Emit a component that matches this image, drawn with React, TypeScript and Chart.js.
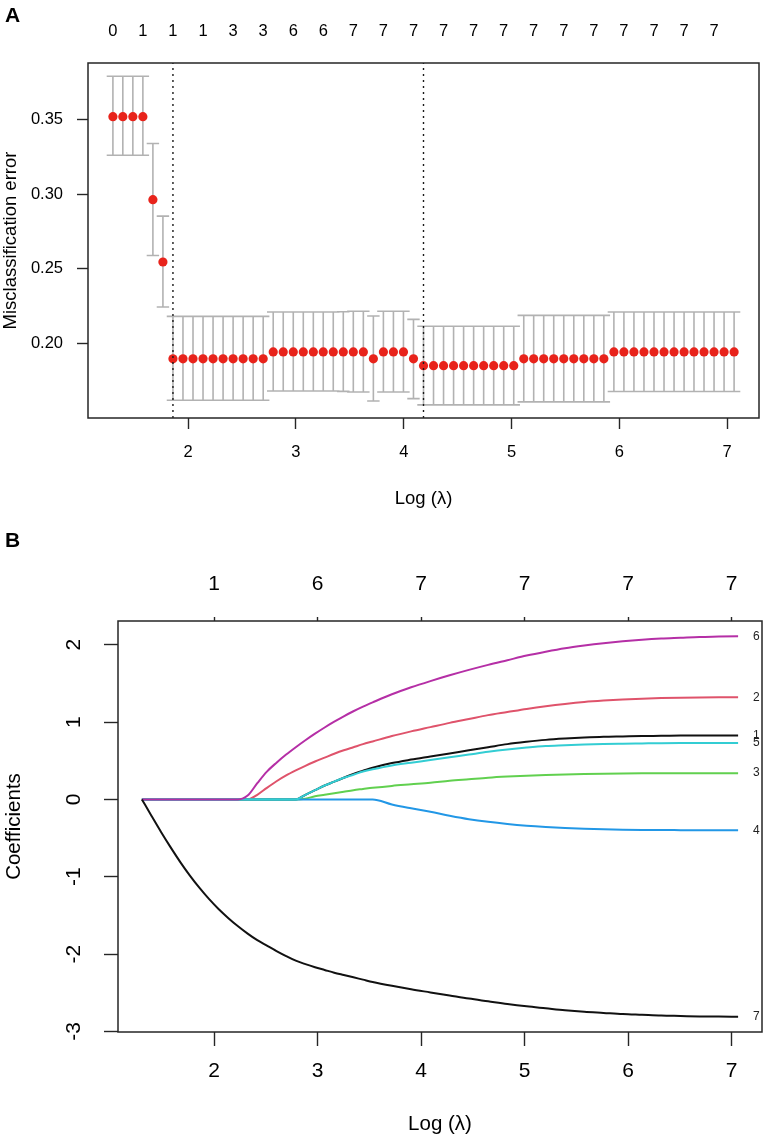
import React, { useEffect, useRef } from "react";
import { Chart, registerables } from "chart.js";

Chart.register(...registerables);

const FONT_FAMILY = "'Liberation Sans', Arial, Helvetica, sans-serif";

// ---- Cross-validation curve (panel A) ----
const logLambda = [
  1.302, 1.394, 1.487, 1.58, 1.673, 1.766, 1.859, 1.952, 2.045, 2.138,
  2.231, 2.324, 2.417, 2.51, 2.603, 2.696, 2.789, 2.882, 2.975, 3.068,
  3.161, 3.253, 3.346, 3.439, 3.532, 3.625, 3.718, 3.811, 3.904, 3.997,
  4.09, 4.183, 4.276, 4.369, 4.462, 4.555, 4.648, 4.741, 4.834, 4.927,
  5.02, 5.113, 5.205, 5.298, 5.391, 5.484, 5.577, 5.67, 5.763, 5.856,
  5.949, 6.042, 6.135, 6.228, 6.321, 6.414, 6.507, 6.6, 6.692, 6.785,
  6.878, 6.971, 7.064,
];

const cvError = [
  0.3519, 0.3519, 0.3519, 0.3519, 0.2963, 0.2546,
  0.1898, 0.1898, 0.1898, 0.1898, 0.1898, 0.1898, 0.1898, 0.1898, 0.1898, 0.1898,
  0.1944, 0.1944, 0.1944, 0.1944, 0.1944, 0.1944, 0.1944, 0.1944, 0.1944, 0.1944,
  0.1898, 0.1944, 0.1944, 0.1944, 0.1898,
  0.1852, 0.1852, 0.1852, 0.1852, 0.1852, 0.1852, 0.1852, 0.1852, 0.1852, 0.1852,
  0.1898, 0.1898, 0.1898, 0.1898, 0.1898, 0.1898, 0.1898, 0.1898, 0.1898,
  0.1944, 0.1944, 0.1944, 0.1944, 0.1944, 0.1944, 0.1944, 0.1944, 0.1944, 0.1944,
  0.1944, 0.1944, 0.1944,
];

const cvUpper = [
  0.3789, 0.3789, 0.3789, 0.3789, 0.3339, 0.2853,
  0.2182, 0.2182, 0.2182, 0.2182, 0.2182, 0.2182, 0.2182, 0.2182, 0.2182, 0.2182,
  0.2211, 0.2211, 0.2211, 0.2211, 0.2211, 0.2211, 0.2211, 0.2213, 0.2216, 0.2216,
  0.2185, 0.2216, 0.2216, 0.2216, 0.2162,
  0.2116, 0.2116, 0.2116, 0.2116, 0.2116, 0.2116, 0.2116, 0.2116, 0.2116, 0.2116,
  0.2189, 0.2189, 0.2189, 0.2189, 0.2189, 0.2189, 0.2189, 0.2189, 0.2189,
  0.2211, 0.2211, 0.2211, 0.2211, 0.2211, 0.2211, 0.2211, 0.2211, 0.2211, 0.2211,
  0.2211, 0.2211, 0.2211,
];

const cvLower = [
  0.3261, 0.3261, 0.3261, 0.3261, 0.259, 0.2245,
  0.1621, 0.1621, 0.1621, 0.1621, 0.1621, 0.1621, 0.1621, 0.1621, 0.1621, 0.1621,
  0.1683, 0.1683, 0.1683, 0.1683, 0.1683, 0.1683, 0.1683, 0.168, 0.1676, 0.1676,
  0.1616, 0.1676, 0.1676, 0.1676, 0.1632,
  0.159, 0.159, 0.159, 0.159, 0.159, 0.159, 0.159, 0.159, 0.159, 0.159,
  0.161, 0.161, 0.161, 0.161, 0.161, 0.161, 0.161, 0.161, 0.161,
  0.1679, 0.1679, 0.1679, 0.1679, 0.1679, 0.1679, 0.1679, 0.1679, 0.1679, 0.1679,
  0.1679, 0.1679, 0.1679,
];

// lambda.1se and lambda.min
const selectedLogLambda = [1.859, 4.183];

// number of non-zero coefficients printed along the top
const nzTickLogLambda = [
  1.302, 1.58, 1.859, 2.138, 2.417, 2.696, 2.975, 3.253, 3.532, 3.811, 4.09,
  4.369, 4.648, 4.927, 5.205, 5.484, 5.763, 6.042, 6.321, 6.6, 6.878,
];
const nzTickLabels = [
  "0", "1", "1", "1", "3", "3", "6", "6", "7", "7", "7",
  "7", "7", "7", "7", "7", "7", "7", "7", "7", "7",
];

const xTickValues = [2, 3, 4, 5, 6, 7];
const cvYTicks = [0.2, 0.25, 0.3, 0.35];

// ---- Coefficient paths (panel B) ----
const pathLogLambda = [
  1.302, 1.394, 1.487, 1.58, 1.673, 1.766, 1.859, 1.952, 2.045, 2.138,
  2.231, 2.324, 2.417, 2.51, 2.603, 2.696, 2.789, 2.882, 2.975, 3.068,
  3.161, 3.253, 3.346, 3.439, 3.532, 3.718, 3.904, 4.09, 4.276, 4.462,
  4.648, 4.834, 5.02, 5.205, 5.391, 5.577, 5.763, 5.949, 6.135, 6.321,
  6.507, 6.692, 6.878, 7.064,
];

const coef1 = [
  0, 0, 0, 0, 0, 0, 0, 0, 0, 0, 0, 0, 0, 0, 0, 0, 0,
  0.06, 0.12, 0.18, 0.23, 0.28, 0.33, 0.37, 0.41,
  0.47, 0.515, 0.555, 0.595, 0.635, 0.675, 0.715, 0.745, 0.77, 0.787,
  0.8, 0.81, 0.815, 0.82, 0.822, 0.825, 0.826, 0.827, 0.827,
];
const coef2 = [
  0, 0, 0, 0, 0, 0, 0, 0, 0, 0, 0, 0,
  0.06, 0.15, 0.235, 0.31, 0.375, 0.435, 0.49, 0.54, 0.59, 0.635, 0.675, 0.715, 0.75,
  0.82, 0.88, 0.935, 0.99, 1.04, 1.09, 1.13, 1.17, 1.205, 1.235,
  1.26, 1.278, 1.292, 1.302, 1.31, 1.315, 1.318, 1.32, 1.321,
];
const coef3 = [
  0, 0, 0, 0, 0, 0, 0, 0, 0, 0, 0, 0, 0, 0, 0, 0, 0,
  0.01, 0.04, 0.06, 0.08, 0.1, 0.12, 0.135, 0.15,
  0.175, 0.195, 0.215, 0.24, 0.26, 0.28, 0.295, 0.307, 0.316, 0.323,
  0.328, 0.332, 0.335, 0.337, 0.338, 0.339, 0.34, 0.34, 0.34,
];
const coef4 = [
  0, 0, 0, 0, 0, 0, 0, 0, 0, 0, 0, 0, 0, 0, 0, 0, 0, 0, 0, 0, 0, 0, 0, 0, 0,
  -0.065, -0.115, -0.16, -0.21, -0.255, -0.29, -0.318, -0.34, -0.356, -0.368,
  -0.378, -0.386, -0.391, -0.394, -0.396, -0.397, -0.398, -0.398, -0.398,
];
const coef5 = [
  0, 0, 0, 0, 0, 0, 0, 0, 0, 0, 0, 0, 0, 0, 0, 0, 0,
  0.06, 0.12, 0.18, 0.23, 0.28, 0.32, 0.36, 0.39,
  0.44, 0.475, 0.51, 0.545, 0.58, 0.615, 0.645, 0.67, 0.69, 0.7,
  0.71, 0.717, 0.721, 0.724, 0.727, 0.729, 0.73, 0.731, 0.731,
];
const coef6 = [
  0, 0, 0, 0, 0, 0, 0, 0, 0, 0, 0,
  0.05, 0.21, 0.36, 0.475, 0.58, 0.675, 0.765, 0.85, 0.93, 1.005, 1.075, 1.14, 1.2, 1.255,
  1.36, 1.45, 1.53, 1.605, 1.675, 1.74, 1.8, 1.86, 1.91, 1.955,
  1.99, 2.02, 2.045, 2.065, 2.08, 2.09, 2.1, 2.105, 2.11,
];
const coef7 = [
  0, -0.21, -0.42, -0.62, -0.81, -0.985, -1.145, -1.29, -1.42, -1.535,
  -1.64, -1.735, -1.82, -1.89, -1.96, -2.025, -2.085, -2.13, -2.17, -2.205,
  -2.24, -2.27, -2.3, -2.33, -2.36, -2.41, -2.455, -2.495, -2.535, -2.575,
  -2.61, -2.645, -2.675, -2.7, -2.725, -2.745, -2.76, -2.775, -2.785, -2.795,
  -2.8, -2.805, -2.808, -2.81,
];

const coefNames = ["1", "2", "3", "4", "5", "6", "7"];
const coefPaths = [coef1, coef2, coef3, coef4, coef5, coef6, coef7];
const pathTopLabels = ["1", "6", "7", "7", "7", "7"];
const coefYTicks = [-3, -2, -1, 0, 1, 2];

// ---- display ranges and styling ----
const X_RANGE = [1.071, 7.295];
const CV_Y_RANGE = [0.1502, 0.3878];
const COEF_Y_RANGE = [-3.007, 2.307];

const AXIS_COLOR = "#262626";
const POINT_RED = "#E8231B";
const BAR_GREY = "#B2B2B2";
const PATH_COLORS = ["#111111", "#DF536B", "#61D04F", "#2297E6", "#33CDD3", "#B52FA6", "#111111"];

const framePlugin = {
  id: "frame",
  afterDraw(chart: any) {
    const { ctx, chartArea: a } = chart;
    ctx.save();
    ctx.strokeStyle = AXIS_COLOR;
    ctx.lineWidth = 1.5;
    ctx.strokeRect(a.left, a.top, a.right - a.left, a.bottom - a.top);
    ctx.restore();
  },
};

function panelTag(text: string, x: number, y: number) {
  return {
    id: "panelTag" + text,
    afterDraw(chart: any) {
      const ctx = chart.ctx;
      ctx.save();
      ctx.fillStyle = "#000";
      ctx.font = `bold 21px ${FONT_FAMILY}`;
      ctx.textAlign = "left";
      ctx.textBaseline = "alphabetic";
      ctx.fillText(text, x, y);
      ctx.restore();
    },
  };
}

function fixedTicks(values: number[]) {
  return (scale: any) => {
    scale.ticks = values.map((v) => ({ value: v }));
  };
}

const baseOptions = {
  animation: false,
  responsive: false,
  devicePixelRatio: 1,
  events: [],
  plugins: { legend: { display: false }, tooltip: { enabled: false } },
};

function CvPanel() {
  const ref = useRef<HTMLCanvasElement>(null);
  useEffect(() => {
    const canvas = ref.current;
    if (!canvas) return;
    const capHalf = (logLambda[logLambda.length - 1] - logLambda[0]) * 0.01;
    const bars: any[] = [];
    logLambda.forEach((x, i) => {
      bars.push({ x, y: cvLower[i] }, { x, y: cvUpper[i] }, { x, y: null });
      bars.push({ x: x - capHalf, y: cvUpper[i] }, { x: x + capHalf, y: cvUpper[i] }, { x, y: null });
      bars.push({ x: x - capHalf, y: cvLower[i] }, { x: x + capHalf, y: cvLower[i] }, { x, y: null });
    });
    const vlines: any[] = [];
    selectedLogLambda.forEach((x) => {
      vlines.push({ x, y: CV_Y_RANGE[0] }, { x, y: CV_Y_RANGE[1] }, { x, y: null });
    });

    const tickFont = { family: FONT_FAMILY, size: 16.5 };
    const titleFont = { family: FONT_FAMILY, size: 18.5 };

    const chart = new Chart(canvas, {
      type: "line",
      data: {
        datasets: [
          {
            label: "Misclassification error",
            data: logLambda.map((x, i) => ({ x, y: cvError[i] })),
            showLine: false,
            pointRadius: 4.6,
            pointHoverRadius: 4.6,
            pointBackgroundColor: POINT_RED,
            pointBorderWidth: 0,
            order: 1,
          },
          {
            label: "SE",
            data: bars,
            borderColor: BAR_GREY,
            borderWidth: 1.6,
            pointRadius: 0,
            spanGaps: false,
            order: 2,
          },
          {
            label: "Selected lambda",
            data: vlines,
            borderColor: "#1a1a1a",
            borderWidth: 1.4,
            borderDash: [2, 4],
            pointRadius: 0,
            spanGaps: false,
            order: 0,
          },
        ],
      },
      options: {
        ...baseOptions,
        layout: { padding: { left: 0, right: 8, top: 0, bottom: 0 } },
        scales: {
          x: {
            type: "linear",
            position: "bottom",
            min: X_RANGE[0],
            max: X_RANGE[1],
            afterBuildTicks: fixedTicks(xTickValues),
            afterFit: (s: any) => { s.height = 102; },
            ticks: { color: "#000", font: tickFont, padding: 14, autoSkip: false, maxRotation: 0, callback: (v: any) => String(v) },
            grid: { display: true, drawOnChartArea: false, drawTicks: true, tickLength: 11, tickColor: AXIS_COLOR, tickWidth: 1.4 },
            border: { display: false },
            title: { display: true, text: "Log (λ)", color: "#000", font: titleFont, padding: { top: 0, bottom: 10 } },
          },
          xTop: {
            type: "linear",
            position: "top",
            min: X_RANGE[0],
            max: X_RANGE[1],
            afterBuildTicks: fixedTicks(nzTickLogLambda),
            afterFit: (s: any) => { s.height = 63; },
            ticks: { color: "#000", font: tickFont, padding: 21.4, autoSkip: false, maxRotation: 0, callback: (_v: any, i: number) => nzTickLabels[i] },
            grid: { display: false, drawTicks: false },
            border: { display: false },
          },
          y: {
            type: "linear",
            position: "left",
            min: CV_Y_RANGE[0],
            max: CV_Y_RANGE[1],
            afterBuildTicks: fixedTicks(cvYTicks),
            afterFit: (s: any) => { s.width = 88; },
            ticks: { color: "#000", font: tickFont, padding: 14, callback: (v: any) => Number(v).toFixed(2) },
            grid: { display: true, drawOnChartArea: false, drawTicks: true, tickLength: 11, tickColor: AXIS_COLOR, tickWidth: 1.4 },
            border: { display: false },
            title: { display: true, text: "Misclassification error", color: "#000", font: titleFont, padding: { top: 0, bottom: 0 } },
          },
        },
      } as any,
      plugins: [framePlugin, panelTag("A", 5, 22)],
    });
    return () => chart.destroy();
  }, []);
  return (
    <canvas
      ref={ref}
      width={767}
      height={520}
      style={{ position: "absolute", left: 0, top: 0, width: 767, height: 520, display: "block" }}
    />
  );
}

function PathPanel() {
  const ref = useRef<HTMLCanvasElement>(null);
  useEffect(() => {
    const canvas = ref.current;
    if (!canvas) return;
    const tickFont = { family: FONT_FAMILY, size: 21 };
    const titleFont = { family: FONT_FAMILY, size: 20.5 };

    const endLabels = {
      id: "endLabels",
      afterDatasetsDraw(chart: any) {
        const { ctx } = chart;
        const xs = chart.scales.x;
        const ys = chart.scales.y;
        const lastX = pathLogLambda[pathLogLambda.length - 1];
        ctx.save();
        ctx.fillStyle = "#222";
        ctx.font = `12px ${FONT_FAMILY}`;
        ctx.textAlign = "left";
        ctx.textBaseline = "middle";
        coefPaths.forEach((vals, k) => {
          const v = vals[vals.length - 1];
          ctx.fillText(coefNames[k], xs.getPixelForValue(lastX) + 15, ys.getPixelForValue(v));
        });
        ctx.restore();
      },
    };

    const chart = new Chart(canvas, {
      type: "line",
      data: {
        datasets: coefPaths.map((vals, k) => ({
          label: coefNames[k],
          data: pathLogLambda.map((x, i) => ({ x, y: vals[i] })),
          borderColor: PATH_COLORS[k],
          borderWidth: 2,
          pointRadius: 0,
          cubicInterpolationMode: "monotone",
          order: coefPaths.length - k,
        })),
      },
      options: {
        ...baseOptions,
        layout: { padding: { left: 0, right: 5, top: 0, bottom: 0 } },
        scales: {
          x: {
            type: "linear",
            position: "bottom",
            min: X_RANGE[0],
            max: X_RANGE[1],
            afterBuildTicks: fixedTicks(xTickValues),
            afterFit: (s: any) => { s.height = 106; },
            ticks: { color: "#000", font: tickFont, padding: 12.4, autoSkip: false, maxRotation: 0, callback: (v: any) => String(v) },
            grid: { display: true, drawOnChartArea: false, drawTicks: true, tickLength: 14, tickColor: AXIS_COLOR, tickWidth: 1.4 },
            border: { display: false },
            title: { display: true, text: "Log (λ)", color: "#000", font: titleFont, padding: { top: 0, bottom: 1.4 } },
          },
          xTop: {
            type: "linear",
            position: "top",
            min: X_RANGE[0],
            max: X_RANGE[1],
            afterBuildTicks: fixedTicks(xTickValues),
            afterFit: (s: any) => { s.height = 101; },
            ticks: { color: "#000", font: tickFont, padding: 19.9, autoSkip: false, maxRotation: 0, callback: (_v: any, i: number) => pathTopLabels[i] },
            grid: { display: true, drawOnChartArea: false, drawTicks: true, tickLength: 4, tickColor: AXIS_COLOR, tickWidth: 1.4 },
            border: { display: false },
          },
          y: {
            type: "linear",
            position: "left",
            min: COEF_Y_RANGE[0],
            max: COEF_Y_RANGE[1],
            afterBuildTicks: fixedTicks(coefYTicks),
            afterFit: (s: any) => { s.width = 118; },
            ticks: { color: "#000", font: tickFont, padding: 20.6, minRotation: 90, maxRotation: 90, crossAlign: "center", callback: (v: any) => String(v) },
            grid: { display: true, drawOnChartArea: false, drawTicks: true, tickLength: 14, tickColor: AXIS_COLOR, tickWidth: 1.4 },
            border: { display: false },
            title: { display: true, text: "Coefficients", color: "#000", font: titleFont, padding: { top: 2, bottom: 0 } },
          },
        },
      } as any,
      plugins: [framePlugin, endLabels, panelTag("B", 5, 27)],
    });
    return () => chart.destroy();
  }, []);
  return (
    <canvas
      ref={ref}
      width={767}
      height={618}
      style={{ position: "absolute", left: 0, top: 520, width: 767, height: 618, display: "block" }}
    />
  );
}

export default function App() {
  return (
    <div style={{ position: "absolute", left: 0, top: 0, width: 767, height: 1138, background: "#fff" }}>
      <CvPanel />
      <PathPanel />
    </div>
  );
}
